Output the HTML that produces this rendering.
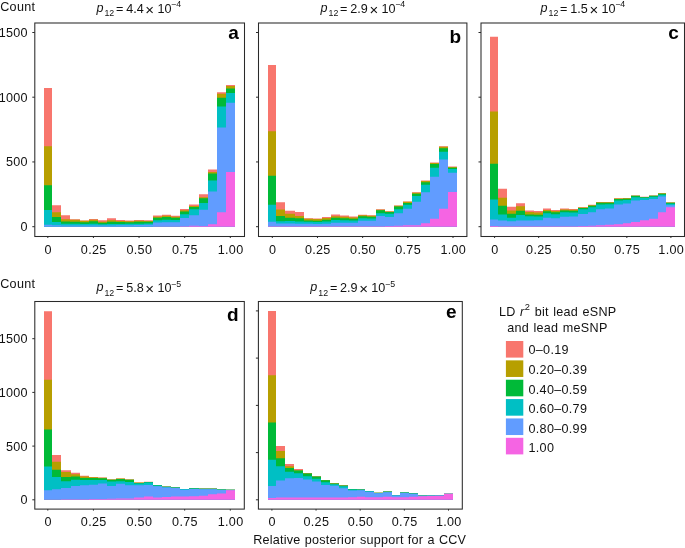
<!DOCTYPE html>
<html><head><meta charset="utf-8"><title>chart</title>
<style>
html,body{margin:0;padding:0;background:#fff;}
svg{display:block;will-change:transform;}
text{font-family:"Liberation Sans",sans-serif;fill:#111;}
.t{font-size:12.6px;letter-spacing:0.3px;word-spacing:0.5px;}
.n{font-size:12.6px;}
.s{font-size:8.8px;}
.x{font-size:15px;}
.b{font-size:19px;font-weight:bold;fill:#000;}
</style></head><body>
<svg width="685" height="548" viewBox="0 0 685 548">
<rect x="0" y="0" width="685" height="548" fill="#fff"/>
<g><path d="M44 226.65V87.95H52V205.35H61V215.35H70V219.15H80V220.45H89V218.95H98V220.25H107V218.25H116V220.05H125V220.55H134V220.05H144V220.25H153V215.45H162V214.65H171V215.85H180V208.95H189V204.45H199V194.35H208V169.55H217V92.25H226V85.05H235V226.65Z" fill="#F8766D"/>
<path d="M44 226.65V146.35H52V212.15H61V219.25H70V219.85H80V220.85H89V219.85H98V221.85H107V220.25H116V221.05H125V221.25H134V220.85H144V221.05H153V216.65H162V215.85H171V216.85H180V210.25H189V205.95H199V197.15H208V172.05H217V93.85H226V86.05H235V226.65Z" fill="#B79F00"/>
<path d="M44 226.65V185.15H52V217.05H61V221.45H70V221.65H80V222.25H89V221.25H98V222.65H107V221.65H116V222.05H125V222.25H134V221.85H144V221.85H153V217.65H162V217.05H171V217.85H180V211.45H189V207.05H199V198.35H208V173.55H217V97.75H226V88.55H235V226.65Z" fill="#00BA38"/>
<path d="M44 226.65V210.05H52V221.95H61V223.65H70V223.85H80V224.05H89V223.85H98V224.25H107V224.05H116V224.05H125V223.85H134V223.65H144V223.45H153V220.25H162V219.85H171V220.05H180V214.35H189V209.25H199V203.05H208V180.55H217V106.55H226V92.95H235V226.65Z" fill="#00BFC4"/>
<path d="M44 226.65V224.65H52V225.35H61V225.45H70V225.45H80V225.45H89V225.45H98V225.45H107V225.45H116V225.35H125V225.15H134V225.05H144V224.85H153V222.45H162V222.25H171V222.25H180V218.05H189V215.15H199V209.75H208V191.45H217V127.45H226V102.85H235V226.65Z" fill="#619CFF"/>
<path d="M44 226.65V226.65H52V226.65H61V226.65H70V226.65H80V226.65H89V226.65H98V226.65H107V226.65H116V226.65H125V226.65H134V226.65H144V226.65H153V226.45H162V226.45H171V226.45H180V226.35H189V225.65H199V226.05H208V224.35H217V212.15H226V172.05H235V226.65Z" fill="#F564E3"/>
<rect x="34.8" y="23" width="209.7" height="213.5" fill="none" stroke="#2a2a2a" stroke-width="1.05"/>
<path d="M47.8 236.5v1.5" stroke="#2a2a2a" stroke-width="1"/>
<text class="t" x="48.1" y="253.7" text-anchor="middle">0</text>
<path d="M93.42 236.5v1.5" stroke="#2a2a2a" stroke-width="1"/>
<text class="t" x="93.72" y="253.7" text-anchor="middle">0.25</text>
<path d="M139.05 236.5v1.5" stroke="#2a2a2a" stroke-width="1"/>
<text class="t" x="139.35" y="253.7" text-anchor="middle">0.50</text>
<path d="M184.68 236.5v1.5" stroke="#2a2a2a" stroke-width="1"/>
<text class="t" x="184.98" y="253.7" text-anchor="middle">0.75</text>
<path d="M230.3 236.5v1.5" stroke="#2a2a2a" stroke-width="1"/>
<text class="t" x="230.6" y="253.7" text-anchor="middle">1.00</text>
<path d="M34.8 226.7h-2.5" stroke="#2a2a2a" stroke-width="1"/>
<text class="t" x="27.9" y="231.1" text-anchor="end">0</text>
<path d="M34.8 161.95h-2.5" stroke="#2a2a2a" stroke-width="1"/>
<text class="t" x="27.9" y="166.35" text-anchor="end">500</text>
<path d="M34.8 97.2h-2.5" stroke="#2a2a2a" stroke-width="1"/>
<text class="t" x="27.9" y="101.6" text-anchor="end">1000</text>
<path d="M34.8 32.5h-2.5" stroke="#2a2a2a" stroke-width="1"/>
<text class="t" x="27.9" y="36.9" text-anchor="end">1500</text>
<text class="n" x="96.4" y="11.8"><tspan font-style="italic">p</tspan></text>
<text class="s" x="104.4" y="16.1">12</text>
<text class="n" x="116" y="12.5">=</text>
<text class="n" x="126.2" y="12.5">4.4</text>
<text class="x" x="145.3" y="14.8">×</text>
<text class="n" x="157.4" y="12.5">10</text>
<text class="s" x="171.1" y="7.1">−4</text>
<text class="b" x="238.8" y="39.1" text-anchor="end">a</text></g>
<g><path d="M268 226.65V65.05H276V202.15H285V210.85H295V212.05H304V218.15H313V218.45H322V217.05H331V214.55H340V215.55H349V216.45H358V214.65H367V215.15H376V209.15H385V211.15H394V205.45H403V201.45H412V192.35H421V180.45H430V162.55H439V146.35H448V166.45H457V226.65Z" fill="#F8766D"/>
<path d="M268 226.65V131.15H276V209.45H285V213.85H295V215.95H304V218.85H313V219.05H322V218.05H331V216.25H340V216.65H349V217.45H358V215.25H367V215.65H376V209.65H385V211.55H394V205.85H403V201.85H412V192.85H421V181.05H430V163.05H439V146.85H448V166.95H457V226.65Z" fill="#B79F00"/>
<path d="M268 226.65V175.85H276V215.95H285V217.85H295V218.15H304V220.45H313V220.65H322V219.65H331V217.65H340V218.25H349V218.65H358V216.25H367V216.65H376V210.25H385V212.05H394V206.55H403V202.95H412V193.85H421V182.35H430V164.05H439V148.15H448V167.65H457V226.65Z" fill="#00BA38"/>
<path d="M268 226.65V204.75H276V221.25H285V221.05H295V221.45H304V221.85H313V222.05H322V221.45H331V220.05H340V220.25H349V220.45H358V218.25H367V218.45H376V213.35H385V213.85H394V209.15H403V204.75H412V195.95H421V184.65H430V167.75H439V151.85H448V168.95H457V226.65Z" fill="#00BFC4"/>
<path d="M268 226.65V221.85H276V223.45H285V223.45H295V223.65H304V223.85H313V224.05H322V223.65H331V222.85H340V222.85H349V222.85H358V220.65H367V220.65H376V216.05H385V216.95H394V213.35H403V208.75H412V201.85H421V192.35H430V176.85H439V159.45H448V172.65H457V226.65Z" fill="#619CFF"/>
<path d="M268 226.65V226.15H276V226.35H285V226.35H295V226.35H304V226.35H313V226.35H322V226.35H331V226.35H340V226.35H349V226.35H358V226.25H367V226.25H376V226.15H385V226.05H394V225.65H403V225.15H412V225.15H421V223.35H430V218.85H439V208.75H448V191.95H457V226.65Z" fill="#F564E3"/>
<rect x="258.5" y="23" width="208.4" height="213.5" fill="none" stroke="#2a2a2a" stroke-width="1.05"/>
<path d="M272.3 236.5v1.5" stroke="#2a2a2a" stroke-width="1"/>
<text class="t" x="272.6" y="253.7" text-anchor="middle">0</text>
<path d="M317.48 236.5v1.5" stroke="#2a2a2a" stroke-width="1"/>
<text class="t" x="317.78" y="253.7" text-anchor="middle">0.25</text>
<path d="M362.65 236.5v1.5" stroke="#2a2a2a" stroke-width="1"/>
<text class="t" x="362.95" y="253.7" text-anchor="middle">0.50</text>
<path d="M407.82 236.5v1.5" stroke="#2a2a2a" stroke-width="1"/>
<text class="t" x="408.12" y="253.7" text-anchor="middle">0.75</text>
<path d="M453 236.5v1.5" stroke="#2a2a2a" stroke-width="1"/>
<text class="t" x="453.3" y="253.7" text-anchor="middle">1.00</text>
<path d="M258.5 226.7h-2.5" stroke="#2a2a2a" stroke-width="1"/>
<path d="M258.5 161.95h-2.5" stroke="#2a2a2a" stroke-width="1"/>
<path d="M258.5 97.2h-2.5" stroke="#2a2a2a" stroke-width="1"/>
<path d="M258.5 32.5h-2.5" stroke="#2a2a2a" stroke-width="1"/>
<text class="n" x="320.5" y="11.8"><tspan font-style="italic">p</tspan></text>
<text class="s" x="328.5" y="16.1">12</text>
<text class="n" x="340.1" y="12.5">=</text>
<text class="n" x="350.3" y="12.5">2.9</text>
<text class="x" x="369.4" y="14.8">×</text>
<text class="n" x="381.5" y="12.5">10</text>
<text class="s" x="395.2" y="7.1">−4</text>
<text class="b" x="461.2" y="42.6" text-anchor="end">b</text></g>
<g><path d="M490 226.65V36.65H498V188.85H507V206.75H516V203.15H525V210.45H534V210.95H543V208.55H551V210.05H560V208.55H569V208.95H578V207.15H588V204.85H596V201.95H605V201.95H614V198.35H623V198.05H631V195.45H640V196.85H649V195.45H658V193.25H666V202.45H675V226.65Z" fill="#F8766D"/>
<path d="M490 226.65V111.55H498V197.65H507V210.45H516V206.35H525V211.95H534V212.45H543V210.05H551V211.05H560V209.45H569V209.65H578V207.55H588V205.15H596V202.25H605V202.25H614V198.55H623V198.25H631V195.65H640V196.95H649V195.65H658V193.35H666V202.55H675V226.65Z" fill="#B79F00"/>
<path d="M490 226.65V163.85H498V205.85H507V213.65H516V210.75H525V214.45H534V214.65H543V211.35H551V212.25H560V210.45H569V210.65H578V208.05H588V205.65H596V202.65H605V202.65H614V198.95H623V198.65H631V195.85H640V197.15H649V195.85H658V193.65H666V202.85H675V226.65Z" fill="#00BA38"/>
<path d="M490 226.65V199.45H498V214.45H507V217.75H516V214.95H525V216.25H534V216.45H543V213.15H551V214.25H560V212.25H569V212.45H578V209.25H588V207.35H596V204.45H605V204.25H614V200.55H623V200.05H631V197.15H640V197.85H649V196.85H658V194.65H666V203.85H675V226.65Z" fill="#00BFC4"/>
<path d="M490 226.65V219.55H498V220.45H507V221.35H516V220.45H525V220.45H534V220.25H543V217.75H551V218.25H560V216.65H569V216.45H578V214.05H588V212.15H596V209.25H605V208.55H614V204.45H623V203.45H631V200.55H640V200.05H649V199.05H658V196.55H666V205.35H675V226.65Z" fill="#619CFF"/>
<path d="M490 226.65V225.95H498V226.15H507V226.25H516V226.25H525V226.25H534V226.25H543V226.25H551V226.25H560V226.15H569V226.15H578V226.05H588V225.75H596V225.35H605V224.85H614V224.35H623V223.15H631V221.95H640V220.25H649V218.75H658V212.15H666V207.35H675V226.65Z" fill="#F564E3"/>
<rect x="481" y="23" width="203.5" height="213.5" fill="none" stroke="#2a2a2a" stroke-width="1.05"/>
<path d="M494.6 236.5v1.5" stroke="#2a2a2a" stroke-width="1"/>
<text class="t" x="494.9" y="253.7" text-anchor="middle">0</text>
<path d="M538.68 236.5v1.5" stroke="#2a2a2a" stroke-width="1"/>
<text class="t" x="538.98" y="253.7" text-anchor="middle">0.25</text>
<path d="M582.75 236.5v1.5" stroke="#2a2a2a" stroke-width="1"/>
<text class="t" x="583.05" y="253.7" text-anchor="middle">0.50</text>
<path d="M626.83 236.5v1.5" stroke="#2a2a2a" stroke-width="1"/>
<text class="t" x="627.12" y="253.7" text-anchor="middle">0.75</text>
<path d="M670.9 236.5v1.5" stroke="#2a2a2a" stroke-width="1"/>
<text class="t" x="671.2" y="253.7" text-anchor="middle">1.00</text>
<path d="M481 226.7h-2.5" stroke="#2a2a2a" stroke-width="1"/>
<path d="M481 161.95h-2.5" stroke="#2a2a2a" stroke-width="1"/>
<path d="M481 97.2h-2.5" stroke="#2a2a2a" stroke-width="1"/>
<path d="M481 32.5h-2.5" stroke="#2a2a2a" stroke-width="1"/>
<text class="n" x="540.5" y="11.8"><tspan font-style="italic">p</tspan></text>
<text class="s" x="548.5" y="16.1">12</text>
<text class="n" x="560.1" y="12.5">=</text>
<text class="n" x="570.3" y="12.5">1.5</text>
<text class="x" x="589.4" y="14.8">×</text>
<text class="n" x="601.5" y="12.5">10</text>
<text class="s" x="615.2" y="7.1">−4</text>
<text class="b" x="678.8" y="39.1" text-anchor="end">c</text></g>
<g><path d="M44 499.8V311.3H52V455.1H61V470.2H71V472.8H80V475.7H89V477H98V477.5H107V479.4H116V478.4H125V479.4H134V482.5H144V481.8H153V485H162V486.6H171V487.3H180V488.9H189V488.2H199V488.6H208V488.6H217V489.4H226V489.7H235V499.8Z" fill="#F8766D"/>
<path d="M44 499.8V379.7H52V461.8H61V472.1H71V474.3H80V476.6H89V477.3H98V477.8H107V479.5H116V478.6H125V479.5H134V482.6H144V481.9H153V485H162V486.6H171V487.3H180V488.9H189V488.2H199V488.6H208V488.6H217V489.4H226V489.7H235V499.8Z" fill="#B79F00"/>
<path d="M44 499.8V429.5H52V469.7H61V477H71V476.4H80V477.9H89V477.9H98V478.3H107V479.8H116V479.1H125V479.8H134V482.9H144V482H153V485.1H162V486.7H171V487.4H180V489H189V488.3H199V488.7H208V488.7H217V489.5H226V489.75H235V499.8Z" fill="#00BA38"/>
<path d="M44 499.8V466.6H52V477H61V481.2H71V479.7H80V480.1H89V480.1H98V480.1H107V481.6H116V481.2H125V481.9H134V483.4H144V482.4H153V485.4H162V486.8H171V487.5H180V489.1H189V488.4H199V488.8H208V488.8H217V489.6H226V489.8H235V499.8Z" fill="#00BFC4"/>
<path d="M44 499.8V490.3H52V489.2H61V487.9H71V486.1H80V485.2H89V484.8H98V483.4H107V486.1H116V483.8H125V485.2H134V485.3H144V485H153V486.3H162V487.4H171V488.1H180V489.7H189V488.9H199V489.2H208V489.2H217V490H226V489.9H235V499.8Z" fill="#619CFF"/>
<path d="M44 499.8V499.4H52V499.4H61V499.3H71V499.3H80V499.2H89V499.1H98V499H107V498.8H116V498.6H125V498.5H134V497.4H144V496.6H153V497.4H162V496.9H171V496.6H180V496.6H189V496.3H199V495.8H208V494.2H217V493.4H226V490.2H235V499.8Z" fill="#F564E3"/>
<rect x="34.8" y="301.5" width="209.5" height="207.6" fill="none" stroke="#2a2a2a" stroke-width="1.05"/>
<path d="M47.8 509.1v1.5" stroke="#2a2a2a" stroke-width="1"/>
<text class="t" x="48.1" y="525.5" text-anchor="middle">0</text>
<path d="M93.42 509.1v1.5" stroke="#2a2a2a" stroke-width="1"/>
<text class="t" x="93.72" y="525.5" text-anchor="middle">0.25</text>
<path d="M139.05 509.1v1.5" stroke="#2a2a2a" stroke-width="1"/>
<text class="t" x="139.35" y="525.5" text-anchor="middle">0.50</text>
<path d="M184.68 509.1v1.5" stroke="#2a2a2a" stroke-width="1"/>
<text class="t" x="184.98" y="525.5" text-anchor="middle">0.75</text>
<path d="M230.3 509.1v1.5" stroke="#2a2a2a" stroke-width="1"/>
<text class="t" x="230.6" y="525.5" text-anchor="middle">1.00</text>
<path d="M34.8 499.8h-2.5" stroke="#2a2a2a" stroke-width="1"/>
<text class="t" x="27.9" y="504.2" text-anchor="end">0</text>
<path d="M34.8 446.1h-2.5" stroke="#2a2a2a" stroke-width="1"/>
<text class="t" x="27.9" y="450.5" text-anchor="end">500</text>
<path d="M34.8 392.4h-2.5" stroke="#2a2a2a" stroke-width="1"/>
<text class="t" x="27.9" y="396.8" text-anchor="end">1000</text>
<path d="M34.8 338.7h-2.5" stroke="#2a2a2a" stroke-width="1"/>
<text class="t" x="27.9" y="343.1" text-anchor="end">1500</text>
<text class="n" x="96.4" y="291.3"><tspan font-style="italic">p</tspan></text>
<text class="s" x="104.4" y="295.6">12</text>
<text class="n" x="116" y="292">=</text>
<text class="n" x="126.2" y="292">5.8</text>
<text class="x" x="145.3" y="294.3">×</text>
<text class="n" x="157.4" y="292">10</text>
<text class="s" x="171.1" y="286.6">−5</text>
<text class="b" x="238.6" y="320.8" text-anchor="end">d</text></g>
<g><path d="M268 499.8V311.1H276V445.9H285V464.1H294V468.9H303V472.9H312V476.2H321V479.9H330V483.2H339V485.3H348V488.9H357V489.3H365V491H374V492.8H383V491.6H392V495.1H400V492.4H409V493.3H418V495.6H427V495.4H435V495.2H444V493.7H453V499.8Z" fill="#F8766D"/>
<path d="M268 499.8V375.3H276V451H285V466.3H294V470.2H303V473.2H312V476.4H321V480H330V483.3H339V485.4H348V488.9H357V489.3H365V491H374V492.8H383V491.6H392V495.1H400V492.4H409V493.3H418V495.6H427V495.4H435V495.2H444V493.7H453V499.8Z" fill="#B79F00"/>
<path d="M268 499.8V422.5H276V458.2H285V468.1H294V470.6H303V473.5H312V476.6H321V480.2H330V483.4H339V485.5H348V489H357V489.4H365V491.1H374V492.8H383V491.6H392V495.1H400V492.4H409V493.3H418V495.6H427V495.4H435V495.2H444V493.7H453V499.8Z" fill="#00BA38"/>
<path d="M268 499.8V459.7H276V466.3H285V471.8H294V473.3H303V476.2H312V478.8H321V482.3H330V484.2H339V486.2H348V489.4H357V489.6H365V491.2H374V492.9H383V491.7H392V495.2H400V492.5H409V493.4H418V495.6H427V495.4H435V495.2H444V493.7H453V499.8Z" fill="#00BFC4"/>
<path d="M268 499.8V486H276V480.5H285V478.3H294V477.9H303V479.4H312V481.6H321V484.9H330V485.8H339V488.3H348V490.4H357V490.3H365V491.8H374V493.3H383V492.2H392V495.5H400V492.9H409V493.7H418V495.8H427V495.6H435V495.4H444V493.75H453V499.8Z" fill="#619CFF"/>
<path d="M268 499.8V498H276V497.6H285V497.6H294V497.6H303V497.6H312V497.6H321V497.6H330V497.6H339V497.4H348V497.2H357V496.8H365V497.3H374V497.3H383V496.8H392V497.3H400V497.2H409V496.8H418V496.3H427V495.9H435V495.8H444V493.8H453V499.8Z" fill="#F564E3"/>
<rect x="258.4" y="301.5" width="203.9" height="207.6" fill="none" stroke="#2a2a2a" stroke-width="1.05"/>
<path d="M271.9 509.1v1.5" stroke="#2a2a2a" stroke-width="1"/>
<text class="t" x="272.2" y="525.5" text-anchor="middle">0</text>
<path d="M316.05 509.1v1.5" stroke="#2a2a2a" stroke-width="1"/>
<text class="t" x="316.35" y="525.5" text-anchor="middle">0.25</text>
<path d="M360.2 509.1v1.5" stroke="#2a2a2a" stroke-width="1"/>
<text class="t" x="360.5" y="525.5" text-anchor="middle">0.50</text>
<path d="M404.35 509.1v1.5" stroke="#2a2a2a" stroke-width="1"/>
<text class="t" x="404.65" y="525.5" text-anchor="middle">0.75</text>
<path d="M448.5 509.1v1.5" stroke="#2a2a2a" stroke-width="1"/>
<text class="t" x="448.8" y="525.5" text-anchor="middle">1.00</text>
<path d="M258.4 499.8h-2.5" stroke="#2a2a2a" stroke-width="1"/>
<path d="M258.4 452.6h-2.5" stroke="#2a2a2a" stroke-width="1"/>
<path d="M258.4 405.4h-2.5" stroke="#2a2a2a" stroke-width="1"/>
<path d="M258.4 358.1h-2.5" stroke="#2a2a2a" stroke-width="1"/>
<path d="M258.4 310.9h-2.5" stroke="#2a2a2a" stroke-width="1"/>
<text class="n" x="310.3" y="291.3"><tspan font-style="italic">p</tspan></text>
<text class="s" x="318.3" y="295.6">12</text>
<text class="n" x="329.9" y="292">=</text>
<text class="n" x="340.1" y="292">2.9</text>
<text class="x" x="359.2" y="294.3">×</text>
<text class="n" x="371.3" y="292">10</text>
<text class="s" x="385" y="286.6">−5</text>
<text class="b" x="456.6" y="317.8" text-anchor="end">e</text></g>
<text class="t" x="0.2" y="10.7">Count</text>
<text class="t" x="0.2" y="288.3">Count</text>
<text class="t" x="359.7" y="544.0" text-anchor="middle" style="letter-spacing:0.23px">Relative posterior support for a CCV</text>
<text class="t" x="557.8" y="315.7" text-anchor="middle">LD <tspan font-style="italic">r</tspan><tspan font-size="9.3px" dy="-5.6" dx="0.3">2</tspan><tspan dy="5.6"> bit lead eSNP</tspan></text>
<text class="t" x="557.4" y="332.2" text-anchor="middle">and lead meSNP</text>
<rect x="505.9" y="341" width="17.4" height="16.6" fill="#F8766D"/><text class="t" x="528.5" y="353.9">0–0.19</text>
<rect x="505.9" y="360.36" width="17.4" height="16.6" fill="#B79F00"/><text class="t" x="528.5" y="374.4">0.20–0.39</text>
<rect x="505.9" y="379.72" width="17.4" height="16.6" fill="#00BA38"/><text class="t" x="528.5" y="394.2">0.40–0.59</text>
<rect x="505.9" y="399.08" width="17.4" height="16.6" fill="#00BFC4"/><text class="t" x="528.5" y="413.2">0.60–0.79</text>
<rect x="505.9" y="418.44" width="17.4" height="16.6" fill="#619CFF"/><text class="t" x="528.5" y="432.7">0.80–0.99</text>
<rect x="505.9" y="437.8" width="17.4" height="16.6" fill="#F564E3"/><text class="t" x="528.5" y="451.9">1.00</text>
</svg></body></html>
